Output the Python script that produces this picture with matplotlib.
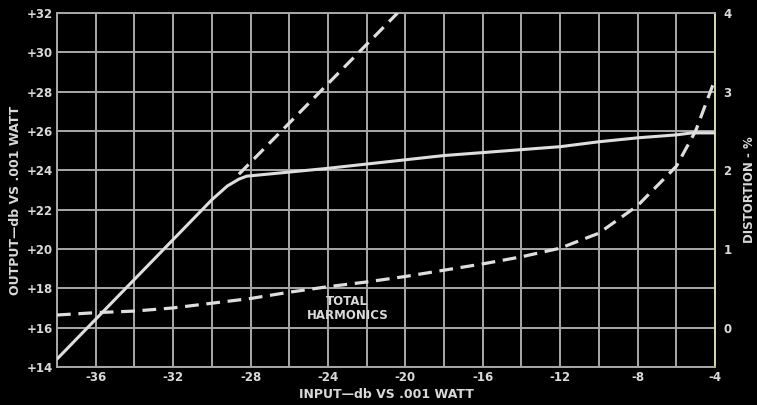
import numpy as np
import matplotlib.pyplot as plt

# output level (solid) vs input level
in_db = [-38, -30, -29.2, -28.6, -28.2, -24, -18, -12, -10, -8, -6, -5.2, -4]
out_db = [14.4, 22.5, 23.2, 23.55, 23.7, 24.1, 24.75, 25.2, 25.45, 25.65, 25.8, 25.9, 25.9]

# linear extension of the output curve (upper dashed)
ext_in = [-28.6, -20.4]
ext_out = [23.8, 32.0]

# total harmonic distortion, percent (lower dashed)
dist_in = [-38, -36, -34, -32, -30, -28, -26, -24, -22, -20, -18, -16, -14, -12, -10, -8, -6, -5, -4.1]
dist_pct = [0.16, 0.19, 0.21, 0.25, 0.31, 0.37, 0.45, 0.52, 0.58, 0.65, 0.73, 0.81, 0.9, 1.01, 1.2, 1.55, 2.05, 2.5, 3.09]

x_ticks = np.arange(-38, -3, 2)
y_ticks = np.arange(14, 33, 2)
d_ticks = [0, 1, 2, 3, 4]

bg = 'black'
grid_c = '#a9a9a9'
line_c = '#dedede'
text_c = '#d9d9d9'

fig = plt.figure(figsize=(7.57, 4.05), dpi=100, facecolor=bg)
ax = fig.add_axes([0.0753, 0.094, 0.8692, 0.874])
ax.set_facecolor(bg)

ax.plot(in_db, out_db, color=line_c, lw=2.2, solid_capstyle='round', zorder=3)
ax.plot(ext_in, ext_out, color=line_c, lw=2.3, dashes=(4.3, 2.4), zorder=3)

ax.set_xlim(-38, -4)
ax.set_ylim(14, 32)
ax.set_xticks(x_ticks)
ax.set_xticklabels([str(int(v)) if (v + 36) % 4 == 0 else '' for v in x_ticks])
ax.set_yticks(y_ticks)
ax.set_yticklabels(['+%d' % v for v in y_ticks])
ax.grid(True, color=grid_c, lw=1.4)
ax.set_axisbelow(True)
ax.tick_params(length=0, colors=text_c, labelsize=8.5, pad=3)
for lab in ax.get_xticklabels() + ax.get_yticklabels():
    lab.set_fontweight('bold')
for s in ax.spines.values():
    s.set_color(grid_c)
    s.set_linewidth(1.4)
ax.spines['right'].set_color('#d8d8b0')

ax2 = ax.twinx()
ax2.plot(dist_in, dist_pct, color=line_c, lw=2.3, dashes=(4.3, 2.4), zorder=3)
ax2.set_ylim(-0.5, 4)
ax2.set_yticks(d_ticks)
ax2.tick_params(length=0, colors=text_c, labelsize=8.5, pad=6)
for lab in ax2.get_yticklabels():
    lab.set_fontweight('bold')
for s in ax2.spines.values():
    s.set_visible(False)

ax.set_xlabel('INPUT—db VS .001 WATT', color=text_c, fontsize=9, fontweight='bold', labelpad=3)
ax.set_ylabel('OUTPUT—db VS .001 WATT', color=text_c, fontsize=9, fontweight='bold', labelpad=3, y=0.47)
ax2.set_ylabel('DISTORTION - %', color=text_c, fontsize=8.5, fontweight='bold', labelpad=8)

ax.text(-23.0, 16.95, 'TOTAL\nHARMONICS', color=text_c, fontsize=8.5, fontweight='bold',
        ha='center', va='center', linespacing=1.1, zorder=4)

plt.savefig('out.png', dpi=100, facecolor=bg)
